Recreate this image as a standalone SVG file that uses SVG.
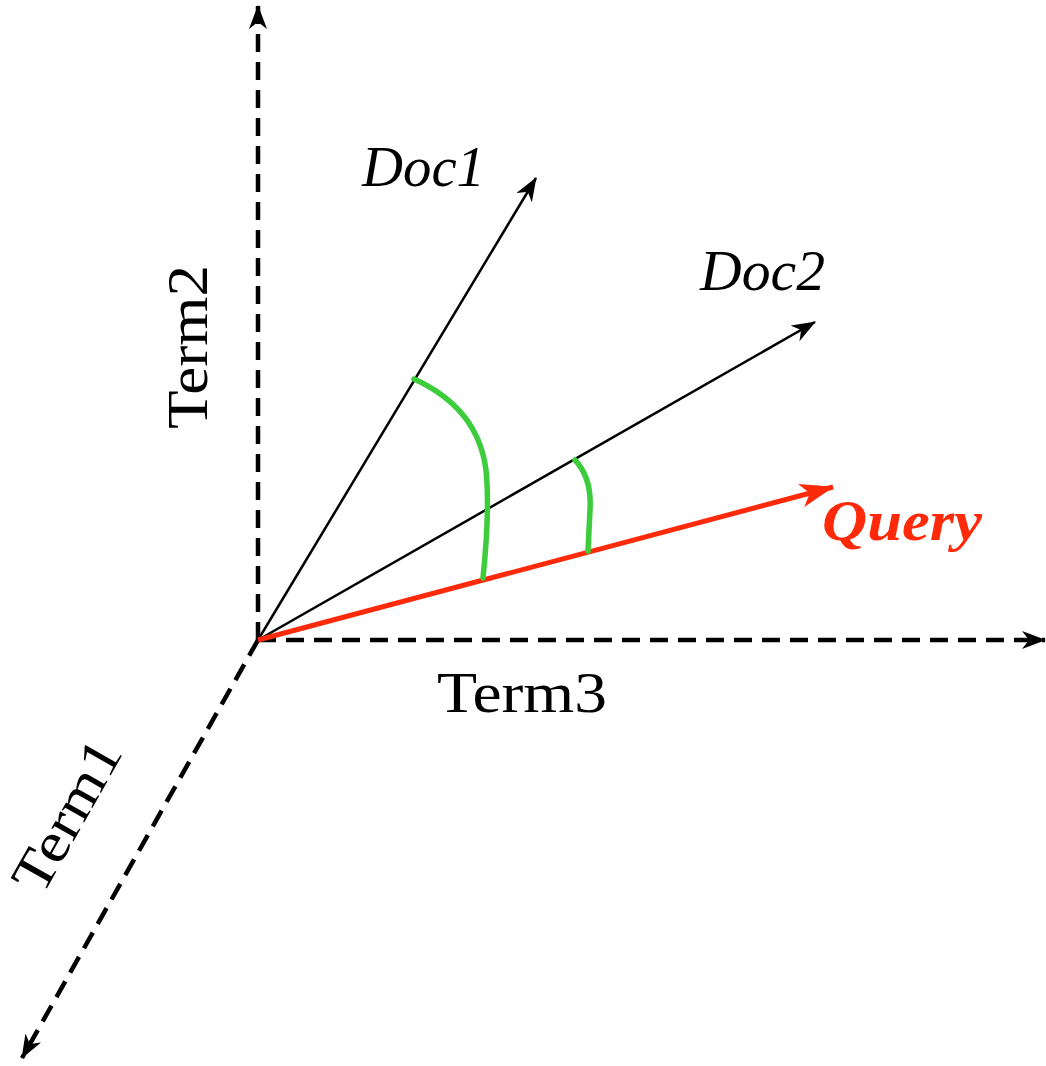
<svg xmlns="http://www.w3.org/2000/svg" width="1046" height="1066" viewBox="0 0 1046 1066">
<style>
.axis{stroke:#000;stroke-width:4.5;stroke-dasharray:18 10;fill:none}
.vec{stroke:#000;stroke-width:2.5;fill:none}
.q{stroke:#ff2a0a;stroke-width:5;fill:none}
.arc{stroke:#3ccc3c;stroke-width:5.5;fill:none;stroke-linecap:round}
.lbl{font-family:"Liberation Serif","DejaVu Serif",serif;font-size:56px;fill:#000}
.it{font-style:italic}
</style>
<defs>
<marker id="ah" viewBox="0 0 24 18" refX="23" refY="9" markerWidth="24" markerHeight="18" markerUnits="userSpaceOnUse" orient="auto"><path d="M0,0 L24,9 L0,18 L7,9 Z" fill="#000"/></marker>
<marker id="ahq" viewBox="0 0 34 24" refX="33" refY="12" markerWidth="34" markerHeight="24" markerUnits="userSpaceOnUse" orient="auto"><path d="M0,0 L34,12 L0,24 L9,12 Z" fill="#ff2a0a"/></marker>
</defs>
<g id="connectors">
<line id="term2-axis" class="axis" x1="258" y1="640" x2="258" y2="6" marker-end="url(#ah)"/>
<line id="term3-axis" class="axis" x1="258" y1="640" x2="1045" y2="640" marker-end="url(#ah)"/>
<line id="term1-axis" class="axis" x1="258" y1="640" x2="22" y2="1058" marker-end="url(#ah)"/>
<line id="doc1-vec" class="vec" x1="258" y1="640" x2="536" y2="178" marker-end="url(#ah)"/>
<line id="doc2-vec" class="vec" x1="258" y1="640" x2="815" y2="322" marker-end="url(#ah)"/>
<line id="query-vec" class="q" x1="258" y1="640" x2="833" y2="487" marker-end="url(#ahq)"/>
<path id="angle1" class="arc" d="M414,379 Q478,408 486,470 Q490,510 483,578"/>
<path id="angle2" class="arc" d="M575,460 Q592,478 590,510 L588,551"/>
</g>
<g id="label-doc1"><text class="lbl it" x="362" y="186" textLength="123" lengthAdjust="spacingAndGlyphs">Doc1</text></g>
<g id="label-doc2"><text class="lbl it" x="700" y="290" textLength="125" lengthAdjust="spacingAndGlyphs">Doc2</text></g>
<g id="label-query"><text class="lbl it" x="822" y="540" font-weight="bold" style="fill:#ff2a0a" textLength="160" lengthAdjust="spacingAndGlyphs">Query</text></g>
<g id="label-term2"><text class="lbl" transform="translate(207,429) rotate(-90)" textLength="164" lengthAdjust="spacingAndGlyphs">Term2</text></g>
<g id="label-term3"><text class="lbl" x="437" y="712" textLength="170" lengthAdjust="spacingAndGlyphs">Term3</text></g>
<g id="label-term1"><text class="lbl" transform="translate(42,897) rotate(-60.5)" textLength="166" lengthAdjust="spacingAndGlyphs">Term1</text></g>
</svg>
